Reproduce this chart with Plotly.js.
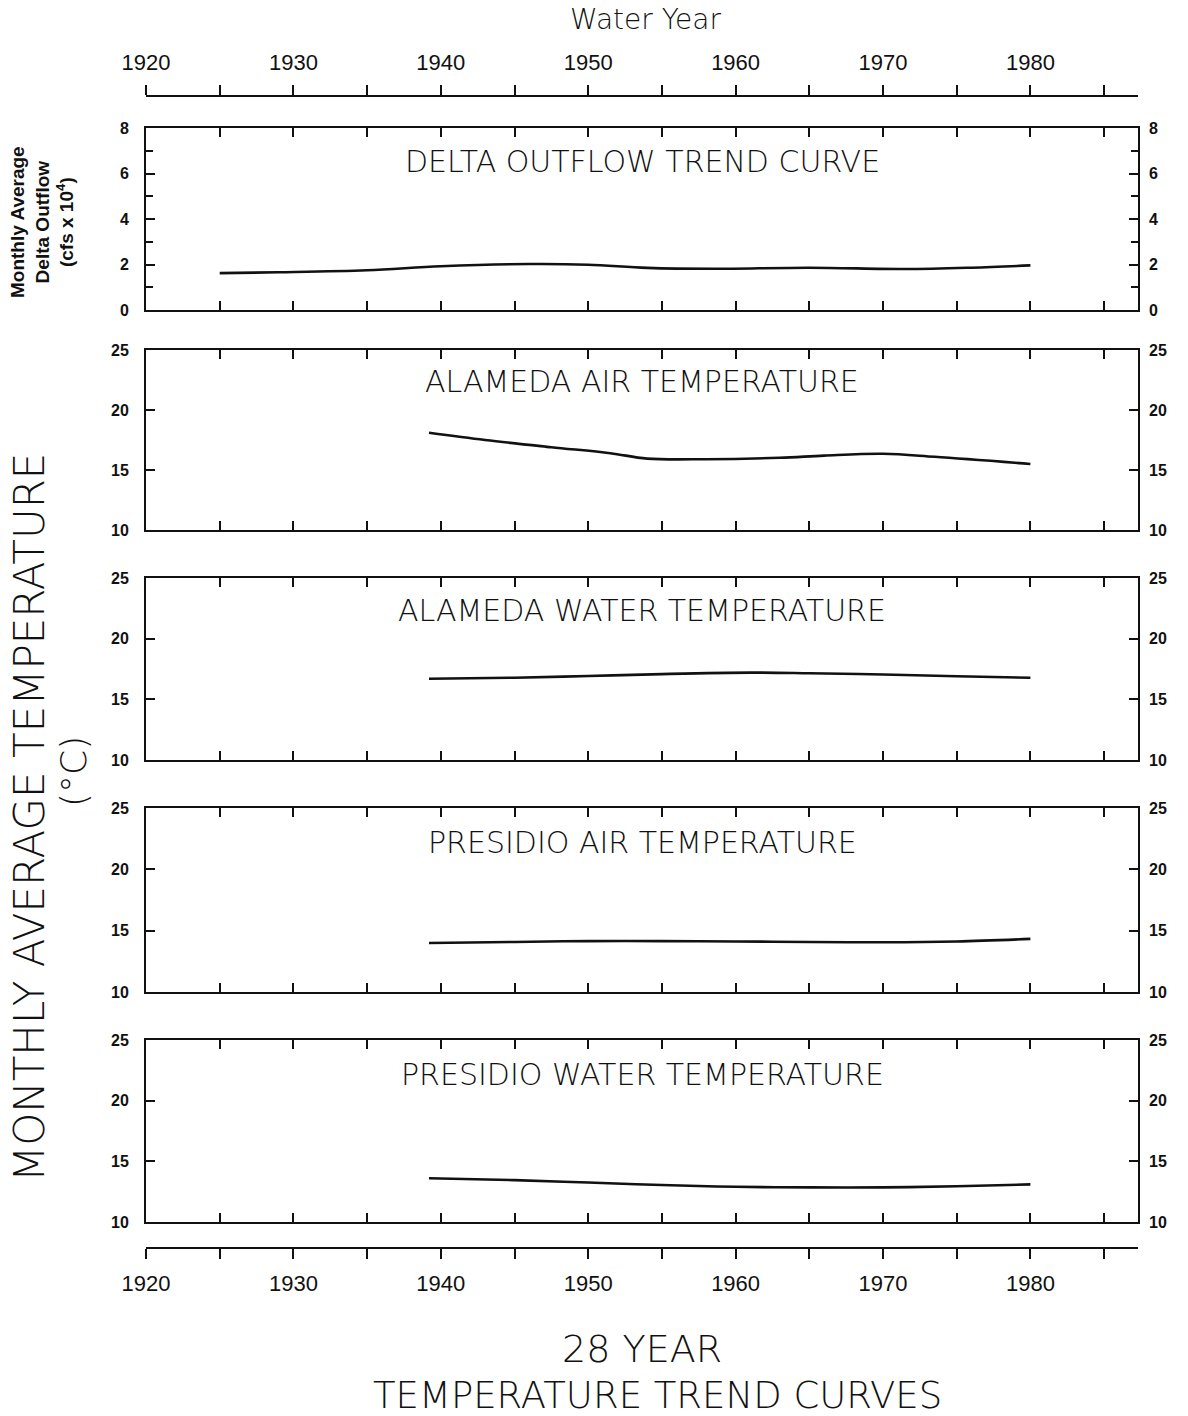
<!DOCTYPE html>
<html>
<head>
<meta charset="utf-8">
<script src="https://cdn.plot.ly/plotly-3.0.1.min.js"></script>
<style>html,body{margin:0;padding:0;background:#fff;}#chart{width:1188px;height:1416px;}</style>
</head>
<body>
<div id="chart"></div>
<script>
// ---- data ----
const deltaYears = [1925, 1929, 1935, 1940, 1946, 1950, 1954, 1958.5, 1965, 1971.5, 1976, 1980];
const deltaFlow  = [1.62, 1.66, 1.75, 1.92, 2.02, 1.99, 1.85, 1.81, 1.86, 1.80, 1.86, 1.96];

const alaAirYears = [1939.2, 1943, 1947.5, 1951.5, 1954, 1958, 1963, 1966, 1970, 1973.5, 1980];
const alaAirTemp  = [18.1, 17.5, 16.9, 16.4, 15.95, 15.9, 16.02, 16.2, 16.35, 16.1, 15.5];

const alaWaterYears = [1939.2, 1945, 1950, 1955, 1961, 1965, 1970, 1975, 1980];
const alaWaterTemp  = [16.7, 16.78, 16.92, 17.08, 17.2, 17.15, 17.05, 16.9, 16.78];

const preAirYears = [1939.2, 1945, 1950, 1955, 1960, 1965, 1970, 1975, 1980];
const preAirTemp  = [14.0, 14.08, 14.15, 14.15, 14.12, 14.08, 14.05, 14.12, 14.33];

const preWaterYears = [1939.2, 1945, 1950, 1955, 1960, 1965, 1970, 1975, 1980];
const preWaterTemp  = [13.6, 13.45, 13.25, 13.05, 12.9, 12.85, 12.85, 12.95, 13.1];

const panelTitles = ["DELTA OUTFLOW TREND CURVE", "ALAMEDA AIR TEMPERATURE",
  "ALAMEDA WATER TEMPERATURE", "PRESIDIO AIR TEMPERATURE", "PRESIDIO WATER TEMPERATURE"];
const xRange = [1920, 1987.3];

// ---- layout helpers ----
const H = 1416, L = 146, R = 1138;
const py = p => 1 - p / H;
const px = p => (p - L) / (R - L);
const panelPix = [[128, 310], [350, 530], [578, 760], [808, 992], [1040, 1222]];
const titlePix = [161, 381, 610, 842, 1074];
const yRanges = [[0, 8], [10, 25], [10, 25], [10, 25], [10, 25]];
const yDticks = [2, 5, 5, 5, 5];

const series = [[deltaYears, deltaFlow], [alaAirYears, alaAirTemp], [alaWaterYears, alaWaterTemp],
  [preAirYears, preAirTemp], [preWaterYears, preWaterTemp]];

const FONT = "DejaVu Sans";
const tickFontY = {family: "Liberation Sans", size: 16, color: "#111", weight: 700};

const traces = [];
const layout = {
  width: 1188, height: 1416,
  margin: {l: L, r: 1188 - R, t: 0, b: 0},
  paper_bgcolor: "#fff", plot_bgcolor: "#fff",
  showlegend: false,
  annotations: [],
  font: {family: FONT, color: "#111"}
};

for (let i = 0; i < 5; i++) {
  const n = i + 1, r = i + 6;
  const xa = "xaxis" + n, ya = "yaxis" + n, yr = "yaxis" + r;
  const dom = [py(panelPix[i][1]), py(panelPix[i][0])];
  layout[xa] = {
    domain: [0, 1], range: xRange, anchor: "y" + n,
    showline: true, linewidth: 2, linecolor: "#111", mirror: "ticks",
    ticks: "inside", ticklen: 9, tickwidth: 2, tickcolor: "#111",
    tick0: 1920, dtick: 5, showticklabels: false, showgrid: false, zeroline: false
  };
  layout[ya] = {
    domain: dom, range: yRanges[i], anchor: "x" + n, side: "left",
    showline: true, linewidth: 2, linecolor: "#111", mirror: true,
    ticks: "inside", ticklen: 9, tickwidth: 2, tickcolor: "#111",
    dtick: yDticks[i], tick0: 0, showgrid: false, zeroline: false,
    tickfont: tickFontY, ticklabelstandoff: 12
  };
  layout[yr] = {
    overlaying: "y" + n, range: yRanges[i], anchor: "x" + n, side: "right",
    showline: false, ticks: "inside", ticklen: 9, tickwidth: 2, tickcolor: "#111",
    dtick: yDticks[i], tick0: 0, showgrid: false, zeroline: false,
    tickfont: tickFontY, ticklabelstandoff: 10
  };
  if (i === 0) {
    layout[ya].minor = {dtick: 1, ticks: "inside", ticklen: 7, tickwidth: 2, tickcolor: "#111", showgrid: false};
    layout[yr].minor = {dtick: 1, ticks: "inside", ticklen: 7, tickwidth: 2, tickcolor: "#111", showgrid: false};
  }
  traces.push({
    x: series[i][0], y: series[i][1], xaxis: "x" + n, yaxis: "y" + n,
    type: "scatter", mode: "lines", line: {color: "#111", width: 2.6, shape: "spline", smoothing: 1},
    hoverinfo: "skip"
  });
  traces.push({x: [null], y: [null], xaxis: "x" + n, yaxis: "y" + r, type: "scatter", mode: "lines", hoverinfo: "skip"});
  layout.annotations.push({
    text: panelTitles[i], xref: "paper", yref: "paper", x: px(642), y: py(titlePix[i]),
    xanchor: "center", yanchor: "middle", showarrow: false,
    font: {family: FONT, size: 30, color: "#111", weight: 200}
  });
}

// top & bottom year axes
const yearAxis = (pos, side) => ({
  overlaying: "x", anchor: "free", position: pos, side: side, range: xRange,
  showline: true, linewidth: 2, linecolor: "#111",
  ticks: "outside", ticklen: 10, tickwidth: 2, tickcolor: "#111",
  tick0: 1920, dtick: 10, showgrid: false, zeroline: false,
  minor: {dtick: 5, ticks: "outside", ticklen: 10, tickwidth: 2, tickcolor: "#111", showgrid: false},
  tickfont: {family: "Liberation Sans", size: 22, color: "#111"}, ticklabelstandoff: 6
});
layout.xaxis6 = yearAxis(py(96), "top");
layout.xaxis7 = yearAxis(py(1248), "bottom");
traces.push({x: [null], y: [null], xaxis: "x6", yaxis: "y", type: "scatter", mode: "lines", hoverinfo: "skip"});
traces.push({x: [null], y: [null], xaxis: "x7", yaxis: "y", type: "scatter", mode: "lines", hoverinfo: "skip"});

// other texts
layout.annotations.push(
  {text: "Water Year", xref: "paper", yref: "paper", x: px(645), y: py(19), xanchor: "center", yanchor: "middle",
   showarrow: false, font: {family: FONT, size: 28, color: "#111", weight: 200}},
  {text: "Monthly Average<br>Delta Outflow<br>(cfs x 10<sup>4</sup>)", xref: "paper", yref: "paper",
   x: px(42), y: py(222), xanchor: "center", yanchor: "middle", textangle: -90, showarrow: false,
   font: {family: "Liberation Sans", size: 19, color: "#111", weight: 700}},
  {text: "MONTHLY AVERAGE TEMPERATURE", xref: "paper", yref: "paper", x: px(29), y: py(818),
   xanchor: "center", yanchor: "middle", textangle: -90, showarrow: false,
   font: {family: FONT, size: 42, color: "#111", weight: 200}},
  {text: "(°C)", xref: "paper", yref: "paper", x: px(73), y: py(772),
   xanchor: "center", yanchor: "middle", textangle: -90, showarrow: false,
   font: {family: FONT, size: 36, color: "#111", weight: 200}},
  {text: "28 YEAR", xref: "paper", yref: "paper", x: px(642), y: py(1349),
   xanchor: "center", yanchor: "middle", showarrow: false,
   font: {family: FONT, size: 38, color: "#111", weight: 200}},
  {text: "TEMPERATURE TREND CURVES", xref: "paper", yref: "paper", x: px(657), y: py(1395),
   xanchor: "center", yanchor: "middle", showarrow: false,
   font: {family: FONT, size: 37, color: "#111", weight: 200}}
);

Plotly.newPlot("chart", traces, layout, {staticPlot: true, displayModeBar: false});
</script>
</body>
</html>
